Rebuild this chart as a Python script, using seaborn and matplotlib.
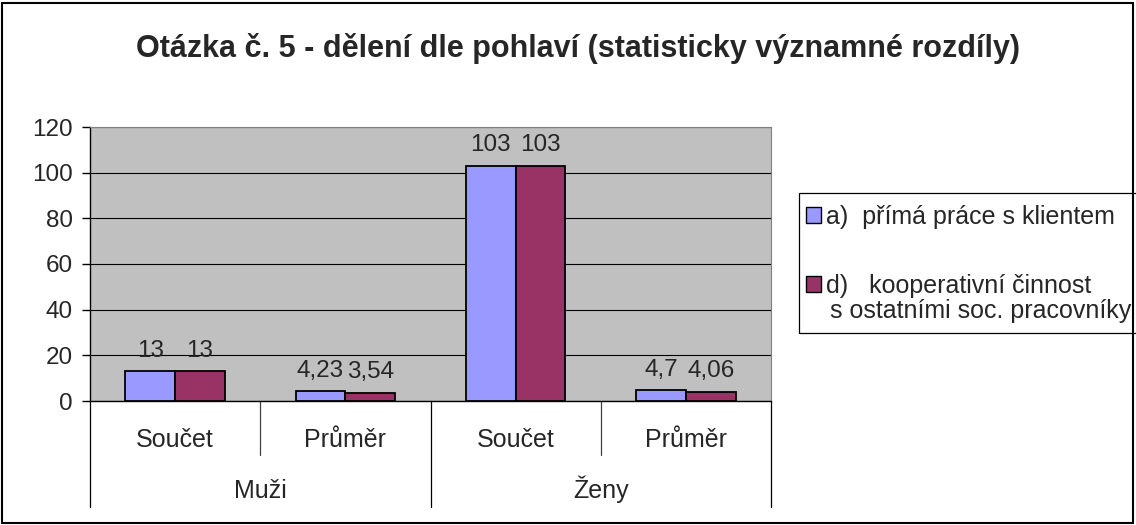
import numpy as np
import pandas as pd
import matplotlib
matplotlib.use("Agg")
import matplotlib.pyplot as plt
import matplotlib.transforms as mtransforms
from matplotlib.patches import Patch, Rectangle
import seaborn as sns

# --- Data ---
groups     = ["Muži", "Muži", "Ženy", "Ženy"]
measures   = ["Součet", "Průměr", "Součet", "Průměr"]
series     = ["a)  přímá práce s klientem", "d)   kooperativní činnost"]
values_a   = [13, 4.23, 103, 4.7]
values_d   = [13, 3.54, 103, 4.06]
labels_a   = ["13", "4,23", "103", "4,7"]
labels_d   = ["13", "3,54", "103", "4,06"]
legend_extra = "s ostatními soc. pracovníky"
title = "Otázka č. 5 - dělení dle pohlaví (statisticky významné rozdíly)"
colors = ["#9999FF", "#993366"]

keys = [f"{g} {m}" for g, m in zip(groups, measures)]
df = pd.DataFrame({
    "key":    keys * 2,
    "series": [series[0]] * 4 + [series[1]] * 4,
    "value":  values_a + values_d,
})

sns.set_style("white")
plt.rcParams["font.family"] = ["Liberation Sans", "DejaVu Sans"]

W, H = 1136, 525
fig = plt.figure(figsize=(W / 100, H / 100), dpi=100)
ax = fig.add_axes([90 / W, 1 - 401 / H, (771 - 90) / W, (401 - 127) / H])

sns.barplot(data=df, x="key", y="value", hue="series", order=keys,
            hue_order=series, palette=colors, saturation=1, edgecolor="black",
            linewidth=1.3, width=0.585, legend=False, ax=ax, zorder=3)

# --- Axes styling ---
ax.set_facecolor("#C0C0C0")
ax.set_ylim(0, 120)
ax.set_xlim(-0.5, 3.5)
ax.set_yticks(np.arange(0, 121, 20))
ax.yaxis.grid(True, color="black", linewidth=0.8)
ax.set_axisbelow(True)
for side in ["top", "right"]:
    ax.spines[side].set_color("#808080")
for side in ["left", "bottom"]:
    ax.spines[side].set_color("black")
    ax.spines[side].set_linewidth(1.0)
ax.tick_params(axis="y", length=5.5, width=1, pad=7, labelsize=17.5, left=True, color="black")
ax.set_xticks([])
ax.set_xlabel("")
ax.set_ylabel("")

# --- Data labels ---
for cont, labs in zip(ax.containers, [labels_a, labels_d]):
    ax.bar_label(cont, labels=labs, padding=7, fontsize=17.5)

# --- Hierarchical category axis ---
trans = mtransforms.blended_transform_factory(ax.transData, ax.transAxes)
px = 1 / (401 - 127)
for i, b in enumerate(np.arange(-0.5, 4, 1.0)):
    depth = 106 if i % 2 == 0 else 54
    ax.plot([b, b], [0, -depth * px], transform=trans,
            color="black" if i % 2 == 0 else "#404040",
            linewidth=0.9, clip_on=False)
for i, m in enumerate(measures):
    ax.text(i, -46 * px, m, transform=trans, ha="center", va="baseline", fontsize=18)
for i, g in enumerate(["Muži", "Ženy"]):
    ax.text(2 * i + 0.5, -97 * px, g, transform=trans, ha="center", va="baseline", fontsize=18)

# --- Title ---
fig.text(578 / W, 1 - 57 / H, title, ha="center", va="baseline",
         fontsize=22, fontweight="bold")

# --- Legend ---
handles = [Patch(facecolor=c, edgecolor="black", linewidth=1.0) for c in colors]
fig.legend(handles, series, loc="upper left", bbox_to_anchor=(806 / W, 1 - 205 / H),
           frameon=False, fontsize=18, handlelength=0.6, handleheight=0.6,
           handletextpad=0.2, labelspacing=1.8, borderaxespad=0, borderpad=0)
fig.text(830 / W, 1 - 318 / H, legend_extra, ha="left", va="baseline", fontsize=18)
fig.patches.append(Rectangle((799 / W, 1 - 333 / H), 345 / W, 140 / H,
                             transform=fig.transFigure, fill=False,
                             edgecolor="black", linewidth=0.9))

# --- Outer border ---
fig.patches.append(Rectangle((2 / W, 2 / H), 1131 / W, 520 / H,
                             transform=fig.transFigure, fill=False,
                             edgecolor="black", linewidth=1.5))

fig.savefig("out.png", dpi=100)
